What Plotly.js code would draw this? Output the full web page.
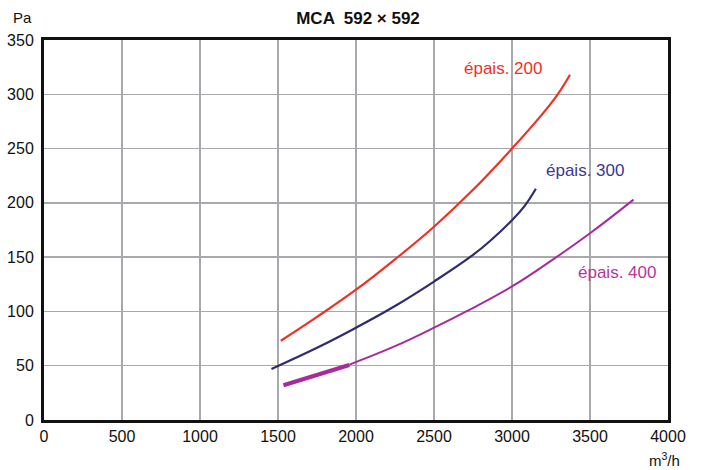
<!DOCTYPE html>
<html><head><meta charset="utf-8">
<script src="https://cdn.plot.ly/plotly-3.0.1.min.js"></script>
<style>body{margin:0;background:#fff}#chart{width:702px;height:470px}</style>
</head><body><div id="chart"></div>
<script>
const flow200 = [1518, 1750, 2000, 2250, 2500, 2750, 3000, 3190, 3293, 3372];
const pa200   = [73, 95, 120, 148, 178, 212, 250, 281, 300, 318];
const flow300 = [1458, 1750, 2000, 2250, 2500, 2750, 2868, 3000, 3080, 3153];
const pa300   = [47, 66.5, 85, 105, 127.5, 152, 166, 184, 197, 213];
const flow400thick = [1535, 1957];
const pa400thick   = [32, 50.6];
const flow400 = [1957, 2250, 2500, 2707, 3000, 3254, 3500, 3779];
const pa400   = [51, 68, 85, 100, 123, 147, 172, 203];
const labels = ["épais. 200", "épais. 300", "épais. 400"];
const labelX = [2945, 3466, 3672];
const labelY = [324, 230, 136];
const xTicks = [0, 500, 1000, 1500, 2000, 2500, 3000, 3500, 4000];
const yTicks = [0, 50, 100, 150, 200, 250, 300, 350];

const red = '#ee3124', navy = '#2e2c6e', purple = '#a82a9c';
const font = "'Liberation Sans', Arial, sans-serif";

const traces = [
  {x: flow200, y: pa200, mode: 'lines', line: {color: red, width: 2.2, shape: 'spline', smoothing: 1.2}},
  {x: flow300, y: pa300, mode: 'lines', line: {color: navy, width: 2.2, shape: 'spline', smoothing: 1.2}},
  {x: flow400thick, y: pa400thick, mode: 'lines', line: {color: purple, width: 4.2}},
  {x: flow400, y: pa400, mode: 'lines', line: {color: purple, width: 2, shape: 'spline', smoothing: 1.2}}
];
const colors = [red, '#3a3a8c', '#b5359e'];
const annotations = labels.map((t, i) => ({
  x: labelX[i], y: labelY[i], xref: 'x', yref: 'y', text: t, showarrow: false,
  font: {family: font, size: 17, color: colors[i]}
}));
annotations.push({xref: 'paper', yref: 'paper', x: -0.035, y: 1.058, xanchor: 'center', yanchor: 'middle',
  text: 'Pa', showarrow: false, font: {family: font, size: 15, color: '#111'}});
annotations.push({xref: 'paper', yref: 'paper', x: 0.995, y: -0.105, xanchor: 'center', yanchor: 'middle',
  text: 'm<sup>3</sup>/h', showarrow: false, font: {family: font, size: 15, color: '#111'}});

const axisCommon = {
  showgrid: true, gridcolor: '#a7a9ac', gridwidth: 1.5,
  showline: true, linecolor: '#111', linewidth: 3, mirror: true,
  zeroline: false, ticks: '', tickfont: {family: font, size: 16, color: '#111'}, fixedrange: true
};
const layout = {
  width: 702, height: 470,
  margin: {l: 44, r: 34, t: 40, b: 50},
  paper_bgcolor: '#fff', plot_bgcolor: '#fff',
  showlegend: false,
  title: {text: '<b>MCA  592 × 592</b>', x: 0.51, xanchor: 'center', y: 0.975, yanchor: 'top',
    font: {family: font, size: 17, color: '#111'}},
  xaxis: Object.assign({}, axisCommon, {range: [0, 4000], tickvals: xTicks, ticktext: xTicks.map(String)}),
  yaxis: Object.assign({}, axisCommon, {range: [0, 350], tickvals: yTicks, ticktext: yTicks.map(String), ticklabelstandoff: 4}),
  annotations: annotations
};
Plotly.newPlot('chart', traces, layout, {displayModeBar: false, staticPlot: true});
</script></body></html>
